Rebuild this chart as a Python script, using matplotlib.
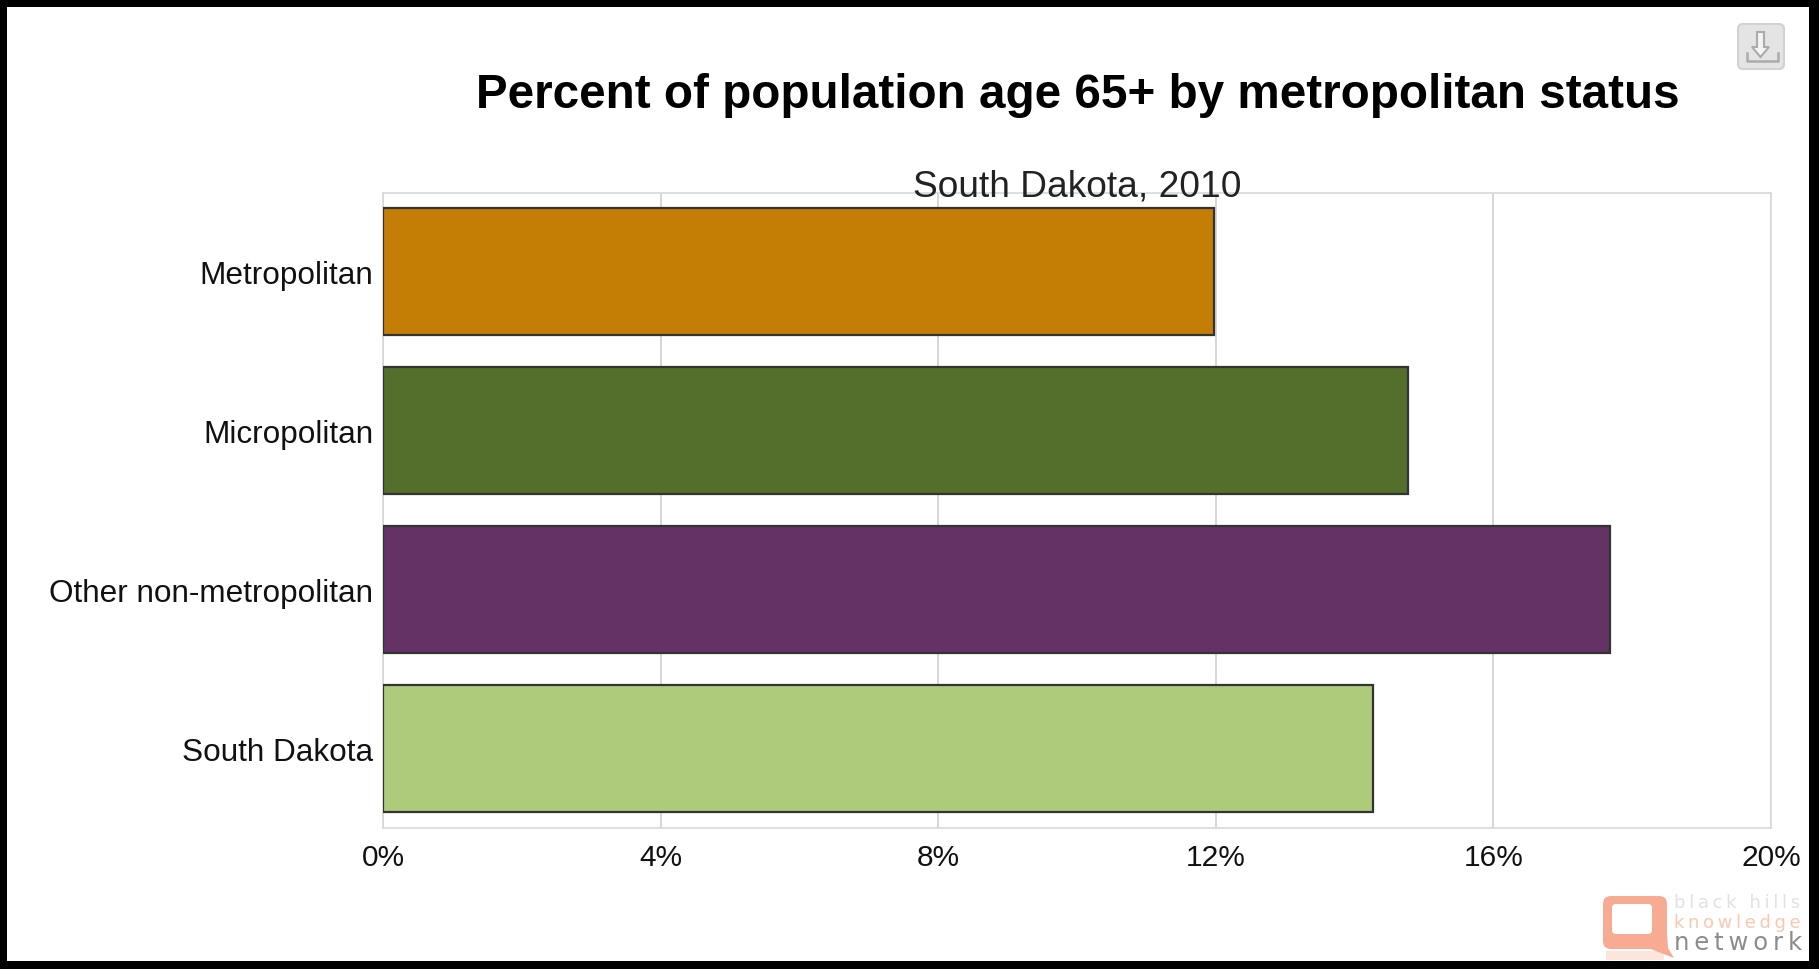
import matplotlib
matplotlib.use("Agg")
import matplotlib.pyplot as plt
from matplotlib.patches import FancyBboxPatch, Rectangle, Polygon

W, H = 1819, 970

categories = ["Metropolitan", "Micropolitan", "Other non-metropolitan", "South Dakota"]
values = [11.98, 14.77, 17.68, 14.27]
colors = ["#c47e06", "#546e2c", "#643264", "#adcb7b"]
xticks = [0, 4, 8, 12, 16, 20]
xticklabels = ["0%", "4%", "8%", "12%", "16%", "20%"]

plt.rcParams["font.family"] = ["Liberation Sans", "DejaVu Sans"]

fig = plt.figure(figsize=(W / 100, H / 100), dpi=100, facecolor="white")

# overlay in pixel coords (y down), for the frame, button and logo
bg = fig.add_axes([0, 0, 1, 1], zorder=5)
bg.set_xlim(0, W)
bg.set_ylim(H, 0)
bg.axis("off")
bg.patch.set_alpha(0)

ax = fig.add_axes([383 / W, 1 - 829 / H, (1771 - 383) / W, (829 - 193.5) / H])
y = range(len(categories))
ax.barh(y, values, height=0.8, color=colors, edgecolor="#333333", linewidth=1.6, zorder=3)
ax.set_xlim(0, 20)
ax.set_ylim(len(categories) - 0.5, -0.5)
ax.set_yticks(list(y))
ax.set_yticklabels(categories, fontsize=22.7, color="#111111")
ax.set_xticks(xticks)
ax.set_xticklabels(xticklabels, fontsize=21.5, color="#111111")
ax.tick_params(axis="y", length=0, pad=7)
ax.tick_params(axis="x", length=0, pad=11)
ax.grid(axis="x", color="#d0d0d0", linewidth=1.2, zorder=0)
ax.set_axisbelow(True)
for s in ax.spines.values():
    s.set_color("#d8d8d8")
    s.set_linewidth(1.2)

fig.text(1077.5 / W, 1 - 96 / H, "Percent of population age 65+ by metropolitan status",
         ha="center", va="center", fontsize=34.3, fontweight="bold", color="black")
fig.text(1077 / W, 1 - 187 / H, "South Dakota, 2010", ha="center", va="center",
         fontsize=26.7, color="#222222", zorder=10)

# black frame
for box in [(0, 0, W, 8), (0, 962, W, 8), (0, 0, 7, H), (1809, 0, 10, H)]:
    bg.add_patch(Rectangle(box[:2], box[2], box[3], fc="black", ec="none", zorder=10))

# export button
bg.add_patch(FancyBboxPatch((1740, 27), 42, 41, boxstyle="round,pad=2,rounding_size=5",
                            fc="#e4e4e4", ec="#d2d2d2", lw=1.5))
bg.add_patch(Polygon([(1757, 33), (1764, 33), (1764, 48), (1769, 48), (1760.5, 58),
                      (1752, 48), (1757, 48)], closed=True, fc="#f4f4f4", ec="#ababab", lw=1.5))
bg.plot([1747, 1747, 1778, 1778], [54, 62, 62, 54], color="#ababab", lw=1.8)

# logo
bg.add_patch(Rectangle((1606, 952), 58, 9, fc="#fde5dc", ec="none"))
bg.add_patch(FancyBboxPatch((1603, 897), 64, 53, boxstyle="round,pad=0,rounding_size=8",
                            fc="#f6ab92", ec="none"))
bg.add_patch(FancyBboxPatch((1612, 905), 40, 30, boxstyle="round,pad=0,rounding_size=4",
                            fc="white", ec="none"))
bg.add_patch(Polygon([(1648, 949), (1667, 935), (1668, 949), (1674, 959)], closed=True,
                     fc="#f6ab92", ec="none"))
thin = "\u2009"
bg.text(1674, 903, thin.join("black hills"), fontsize=13, family="DejaVu Sans",
        color="#e2e2e2", va="center", ha="left")
bg.text(1674, 923, thin.join("knowledge"), fontsize=13, family="DejaVu Sans",
        color="#f9c8b0", va="center", ha="left")
bg.text(1674, 943, thin.join("network"), fontsize=17.5, family="DejaVu Sans",
        color="#8c8c8c", va="center", ha="left")

fig.savefig("out.png", dpi=100)
